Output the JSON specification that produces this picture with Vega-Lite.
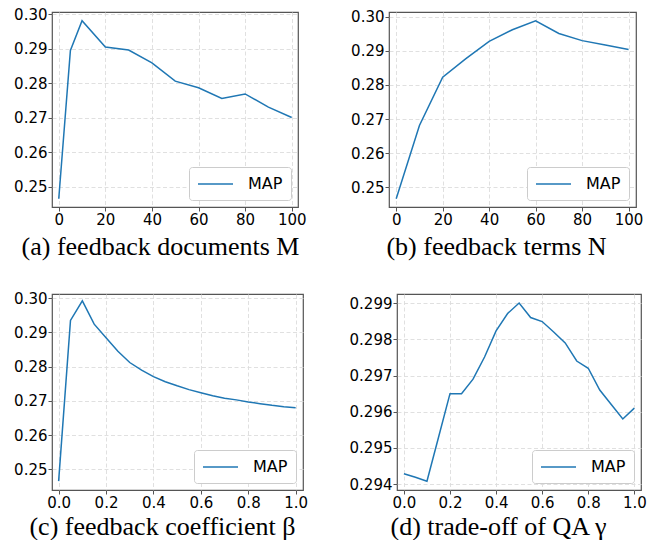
{
  "$schema": "https://vega.github.io/schema/vega-lite/v6.json",
  "background": "white",
  "padding": {"left": 13, "top": 6, "right": 0, "bottom": 0},
  "datasets": {
    "a": [
      {"x": 0, "MAP": 0.2466}, {"x": 5, "MAP": 0.2895}, {"x": 10, "MAP": 0.2981},
      {"x": 20, "MAP": 0.2905}, {"x": 30, "MAP": 0.2896}, {"x": 40, "MAP": 0.2859},
      {"x": 50, "MAP": 0.2806}, {"x": 60, "MAP": 0.2787}, {"x": 70, "MAP": 0.2756},
      {"x": 80, "MAP": 0.2769}, {"x": 90, "MAP": 0.2731}, {"x": 100, "MAP": 0.2701}
    ],
    "b": [
      {"x": 0, "MAP": 0.2466}, {"x": 10, "MAP": 0.2681}, {"x": 20, "MAP": 0.2823},
      {"x": 30, "MAP": 0.2877}, {"x": 40, "MAP": 0.2928}, {"x": 50, "MAP": 0.2962},
      {"x": 60, "MAP": 0.2988}, {"x": 70, "MAP": 0.2951}, {"x": 80, "MAP": 0.2930},
      {"x": 90, "MAP": 0.2917}, {"x": 100, "MAP": 0.2904}
    ],
    "c": [
      {"x": 0.0, "MAP": 0.2466}, {"x": 0.05, "MAP": 0.2935}, {"x": 0.1, "MAP": 0.2992},
      {"x": 0.15, "MAP": 0.2924}, {"x": 0.2, "MAP": 0.2884}, {"x": 0.25, "MAP": 0.2845},
      {"x": 0.3, "MAP": 0.2812}, {"x": 0.35, "MAP": 0.2790}, {"x": 0.4, "MAP": 0.2771},
      {"x": 0.45, "MAP": 0.2756}, {"x": 0.5, "MAP": 0.2744}, {"x": 0.55, "MAP": 0.2733},
      {"x": 0.6, "MAP": 0.2724}, {"x": 0.65, "MAP": 0.2715}, {"x": 0.7, "MAP": 0.2708},
      {"x": 0.75, "MAP": 0.2703}, {"x": 0.8, "MAP": 0.2697}, {"x": 0.85, "MAP": 0.2692},
      {"x": 0.9, "MAP": 0.2687}, {"x": 0.95, "MAP": 0.2683}, {"x": 1.0, "MAP": 0.2680}
    ],
    "d": [
      {"x": 0.0, "MAP": 0.29429}, {"x": 0.05, "MAP": 0.29419}, {"x": 0.1, "MAP": 0.29408},
      {"x": 0.15, "MAP": 0.29529}, {"x": 0.2, "MAP": 0.2965}, {"x": 0.25, "MAP": 0.2965},
      {"x": 0.3, "MAP": 0.2969}, {"x": 0.35, "MAP": 0.29751}, {"x": 0.4, "MAP": 0.29823},
      {"x": 0.45, "MAP": 0.29871}, {"x": 0.5, "MAP": 0.2990}, {"x": 0.55, "MAP": 0.2986},
      {"x": 0.6, "MAP": 0.29849}, {"x": 0.65, "MAP": 0.2982}, {"x": 0.7, "MAP": 0.2979},
      {"x": 0.75, "MAP": 0.2974}, {"x": 0.8, "MAP": 0.2972}, {"x": 0.85, "MAP": 0.2966},
      {"x": 0.9, "MAP": 0.2962}, {"x": 0.95, "MAP": 0.2958}, {"x": 1.0, "MAP": 0.2961}
    ]
  },
  "resolve": {"scale": {"x": "independent", "y": "independent", "color": "independent"}, "legend": {"color": "independent"}},
  "spacing": 30,
  "vconcat": [
    {
      "spacing": 43,
      "resolve": {"scale": {"x": "independent", "y": "independent", "color": "independent"}, "legend": {"color": "independent"}},
      "hconcat": [
        {
          "width": 246, "height": 195,
          "data": {"name": "a"},
          "mark": {"type": "line", "strokeWidth": 1.5, "clip": true},
          "encoding": {
            "x": {"field": "x", "type": "quantitative",
              "scale": {"domain": [-2.9, 102.7], "nice": false, "zero": false},
              "axis": {"values": [0, 20, 40, 60, 80, 100], "format": "d", "title": "(a) feedback documents M", "titleX": 108, "titleY": 47}},
            "y": {"field": "MAP", "type": "quantitative",
              "scale": {"domain": [0.2442, 0.3006], "nice": false, "zero": false},
              "axis": {"values": [0.25, 0.26, 0.27, 0.28, 0.29, 0.30], "format": ".2f", "title": null}},
            "color": {"datum": "MAP", "scale": {"range": ["#1f77b4"]}}
          }
        },
        {
          "width": 247, "height": 195,
          "data": {"name": "b"},
          "mark": {"type": "line", "strokeWidth": 1.5, "clip": true},
          "encoding": {
            "x": {"field": "x", "type": "quantitative",
              "scale": {"domain": [-3.1, 103.2], "nice": false, "zero": false},
              "axis": {"values": [0, 20, 40, 60, 80, 100], "format": "d", "title": "(b) feedback terms N", "titleX": 107, "titleY": 47}},
            "y": {"field": "MAP", "type": "quantitative",
              "scale": {"domain": [0.2442, 0.3014], "nice": false, "zero": false},
              "axis": {"values": [0.25, 0.26, 0.27, 0.28, 0.29, 0.30], "format": ".2f", "title": null}},
            "color": {"datum": "MAP", "scale": {"range": ["#1f77b4"]}}
          }
        }
      ]
    },
    {
      "spacing": 39,
      "resolve": {"scale": {"x": "independent", "y": "independent", "color": "independent"}, "legend": {"color": "independent"}},
      "hconcat": [
        {
          "width": 251, "height": 196,
          "data": {"name": "c"},
          "mark": {"type": "line", "strokeWidth": 1.5, "clip": true},
          "encoding": {
            "x": {"field": "x", "type": "quantitative",
              "scale": {"domain": [-0.028, 1.031], "nice": false, "zero": false},
              "axis": {"values": [0, 0.2, 0.4, 0.6, 0.8, 1.0], "format": ".1f", "title": "(c) feedback coefficient β", "titleX": 110, "titleY": 44}},
            "y": {"field": "MAP", "type": "quantitative",
              "scale": {"domain": [0.2440, 0.3012], "nice": false, "zero": false},
              "axis": {"values": [0.25, 0.26, 0.27, 0.28, 0.29, 0.30], "format": ".2f", "title": null}},
            "color": {"datum": "MAP", "scale": {"range": ["#1f77b4"]}}
          }
        },
        {
          "width": 244, "height": 196,
          "data": {"name": "d"},
          "mark": {"type": "line", "strokeWidth": 1.5, "clip": true},
          "encoding": {
            "x": {"field": "x", "type": "quantitative",
              "scale": {"domain": [-0.030, 1.029], "nice": false, "zero": false},
              "axis": {"values": [0, 0.2, 0.4, 0.6, 0.8, 1.0], "format": ".1f", "title": "(d) trade-off of QA γ", "titleX": 101, "titleY": 44}},
            "y": {"field": "MAP", "type": "quantitative",
              "scale": {"domain": [0.29384, 0.29925], "nice": false, "zero": false},
              "axis": {"values": [0.294, 0.295, 0.296, 0.297, 0.298, 0.299], "format": ".3f", "title": null}},
            "color": {"datum": "MAP", "scale": {"range": ["#1f77b4"]}}
          }
        }
      ]
    }
  ],
  "config": {
    "view": {"stroke": "#555555", "strokeWidth": 1.2},
    "axis": {
      "domain": false,
      "grid": true,
      "gridColor": "#dcdcdc",
      "gridDash": [4, 2.5],
      "gridWidth": 0.9,
      "tickColor": "#555555",
      "tickSize": 4,
      "labelPadding": 1,
      "labelFont": "DejaVu Sans",
      "labelFontSize": 15,
      "labelColor": "#000000",
      "labelFlush": false,
      "labelOverlap": false,
      "titleFont": "Liberation Serif",
      "titleFontSize": 26,
      "titleFontWeight": "normal",
      "titleColor": "#000000",
      "titleAlign": "center",
      "titleBaseline": "alphabetic",
      "titleAngle": 0
    },
    "legend": {
      "title": null,
      "orient": "bottom-right",
      "offset": 7,
      "padding": 8,
      "fillColor": "white",
      "strokeColor": "#cccccc",
      "cornerRadius": 3,
      "labelFont": "DejaVu Sans",
      "labelFontSize": 16,
      "labelColor": "#000000",
      "symbolType": "M-2.19,0H2.19",
      "symbolSize": 256,
      "symbolOffset": 9.5,
      "labelOffset": 23.5,
      "symbolStrokeWidth": 1.5
    }
  }
}
